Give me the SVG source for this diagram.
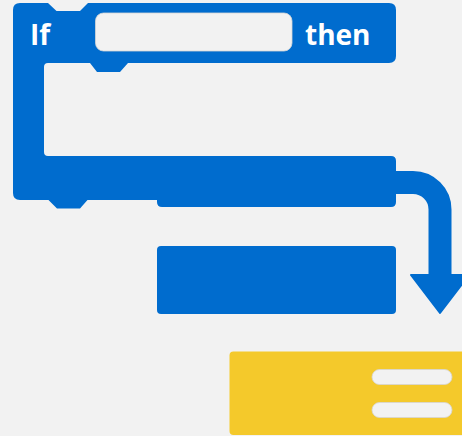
<svg xmlns="http://www.w3.org/2000/svg" width="462" height="436" viewBox="0 0 462 436">
  <defs>
    <style>
      .blue { fill: #006CCE; }
      .slot { fill: #F2F2F2; stroke: #D6D6D6; stroke-width: 0.8; }
      .label { font-family: "Open Sans", "Liberation Sans", sans-serif; font-weight: bold; font-size: 28px; fill: #FFFFFF; }
      .conn { fill: none; stroke: #006CCE; stroke-width: 23; }
    </style>
  </defs>
  <rect width="462" height="436" fill="#F2F2F2"/>
  <g id="if-block">
    <path class="blue" d="M 20,3 L 48,3 L 56.5,11 L 80,11 L 88,3 L 389,3 Q 396,3 396,10 L 396,56 Q 396,63 389,63 L 128,63 L 120,72 L 97,72 L 90,63 L 48,63 Q 44,63 44,67 L 44,152 Q 44,156 48,156 L 391,156 Q 396,156 396,161 L 396,202 Q 396,207 391,207 L 162,207 Q 157,207 157,202 L 157,200 L 87.5,200 L 80,208.5 L 57,208.5 L 48.5,200 L 20,200 Q 13,200 13,193 L 13,10 Q 13,3 20,3 Z"/>
    <rect class="slot" x="95.5" y="13" width="196.5" height="38" rx="8"/>
    <text class="label" x="30" y="45">If</text>
    <text class="label" x="305" y="45">then</text>
  </g>
  <g id="statement-block">
    <rect class="blue" x="157" y="246" width="239" height="68" rx="4"/>
  </g>
  <g id="next-block">
    <rect x="229.5" y="351.5" width="250" height="83.5" rx="4" fill="#F4C92B"/>
    <rect class="slot" x="372" y="369.5" width="80" height="15" rx="7.5"/>
    <rect class="slot" x="372" y="402.5" width="80" height="15" rx="7.5"/>
  </g>
  <g id="connectors">
    <path class="conn" d="M 395,182.5 L 413,182.5 A 27 27 0 0 1 440,209.5 L 440,277"/>
    <polygon points="411,275 469,275 440,313" fill="#006CCE" stroke="#006CCE" stroke-width="2" stroke-linejoin="round"/>
  </g>
</svg>
